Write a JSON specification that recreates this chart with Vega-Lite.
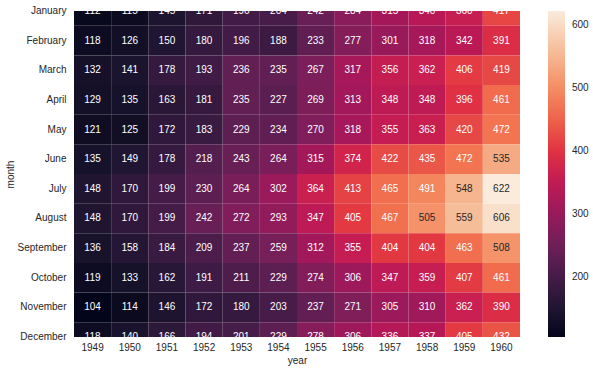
{
  "$schema": "https://vega.github.io/schema/vega-lite/v6.json",
  "width": 446,
  "height": 326,
  "autosize": {"type": "none"},
  "padding": {"left": 74, "top": 11, "right": 73, "bottom": 34},
  "config": {
    "view": {"stroke": null},
    "font": "Liberation Sans",
    "axis": {"domain": false, "ticks": false, "grid": false, "labelFont": "Liberation Sans", "titleFont": "Liberation Sans", "labelFontSize": 10, "titleFontSize": 10, "labelColor": "#262626", "titleColor": "#262626", "titleFontWeight": "normal"},
    "legend": {"labelFont": "Liberation Sans", "labelFontSize": 10, "labelColor": "#262626"}
  },
  "data": {"values": [
    {"year": "1949", "month": "January", "passengers": 112},
    {"year": "1949", "month": "February", "passengers": 118},
    {"year": "1949", "month": "March", "passengers": 132},
    {"year": "1949", "month": "April", "passengers": 129},
    {"year": "1949", "month": "May", "passengers": 121},
    {"year": "1949", "month": "June", "passengers": 135},
    {"year": "1949", "month": "July", "passengers": 148},
    {"year": "1949", "month": "August", "passengers": 148},
    {"year": "1949", "month": "September", "passengers": 136},
    {"year": "1949", "month": "October", "passengers": 119},
    {"year": "1949", "month": "November", "passengers": 104},
    {"year": "1949", "month": "December", "passengers": 118},
    {"year": "1950", "month": "January", "passengers": 115},
    {"year": "1950", "month": "February", "passengers": 126},
    {"year": "1950", "month": "March", "passengers": 141},
    {"year": "1950", "month": "April", "passengers": 135},
    {"year": "1950", "month": "May", "passengers": 125},
    {"year": "1950", "month": "June", "passengers": 149},
    {"year": "1950", "month": "July", "passengers": 170},
    {"year": "1950", "month": "August", "passengers": 170},
    {"year": "1950", "month": "September", "passengers": 158},
    {"year": "1950", "month": "October", "passengers": 133},
    {"year": "1950", "month": "November", "passengers": 114},
    {"year": "1950", "month": "December", "passengers": 140},
    {"year": "1951", "month": "January", "passengers": 145},
    {"year": "1951", "month": "February", "passengers": 150},
    {"year": "1951", "month": "March", "passengers": 178},
    {"year": "1951", "month": "April", "passengers": 163},
    {"year": "1951", "month": "May", "passengers": 172},
    {"year": "1951", "month": "June", "passengers": 178},
    {"year": "1951", "month": "July", "passengers": 199},
    {"year": "1951", "month": "August", "passengers": 199},
    {"year": "1951", "month": "September", "passengers": 184},
    {"year": "1951", "month": "October", "passengers": 162},
    {"year": "1951", "month": "November", "passengers": 146},
    {"year": "1951", "month": "December", "passengers": 166},
    {"year": "1952", "month": "January", "passengers": 171},
    {"year": "1952", "month": "February", "passengers": 180},
    {"year": "1952", "month": "March", "passengers": 193},
    {"year": "1952", "month": "April", "passengers": 181},
    {"year": "1952", "month": "May", "passengers": 183},
    {"year": "1952", "month": "June", "passengers": 218},
    {"year": "1952", "month": "July", "passengers": 230},
    {"year": "1952", "month": "August", "passengers": 242},
    {"year": "1952", "month": "September", "passengers": 209},
    {"year": "1952", "month": "October", "passengers": 191},
    {"year": "1952", "month": "November", "passengers": 172},
    {"year": "1952", "month": "December", "passengers": 194},
    {"year": "1953", "month": "January", "passengers": 196},
    {"year": "1953", "month": "February", "passengers": 196},
    {"year": "1953", "month": "March", "passengers": 236},
    {"year": "1953", "month": "April", "passengers": 235},
    {"year": "1953", "month": "May", "passengers": 229},
    {"year": "1953", "month": "June", "passengers": 243},
    {"year": "1953", "month": "July", "passengers": 264},
    {"year": "1953", "month": "August", "passengers": 272},
    {"year": "1953", "month": "September", "passengers": 237},
    {"year": "1953", "month": "October", "passengers": 211},
    {"year": "1953", "month": "November", "passengers": 180},
    {"year": "1953", "month": "December", "passengers": 201},
    {"year": "1954", "month": "January", "passengers": 204},
    {"year": "1954", "month": "February", "passengers": 188},
    {"year": "1954", "month": "March", "passengers": 235},
    {"year": "1954", "month": "April", "passengers": 227},
    {"year": "1954", "month": "May", "passengers": 234},
    {"year": "1954", "month": "June", "passengers": 264},
    {"year": "1954", "month": "July", "passengers": 302},
    {"year": "1954", "month": "August", "passengers": 293},
    {"year": "1954", "month": "September", "passengers": 259},
    {"year": "1954", "month": "October", "passengers": 229},
    {"year": "1954", "month": "November", "passengers": 203},
    {"year": "1954", "month": "December", "passengers": 229},
    {"year": "1955", "month": "January", "passengers": 242},
    {"year": "1955", "month": "February", "passengers": 233},
    {"year": "1955", "month": "March", "passengers": 267},
    {"year": "1955", "month": "April", "passengers": 269},
    {"year": "1955", "month": "May", "passengers": 270},
    {"year": "1955", "month": "June", "passengers": 315},
    {"year": "1955", "month": "July", "passengers": 364},
    {"year": "1955", "month": "August", "passengers": 347},
    {"year": "1955", "month": "September", "passengers": 312},
    {"year": "1955", "month": "October", "passengers": 274},
    {"year": "1955", "month": "November", "passengers": 237},
    {"year": "1955", "month": "December", "passengers": 278},
    {"year": "1956", "month": "January", "passengers": 284},
    {"year": "1956", "month": "February", "passengers": 277},
    {"year": "1956", "month": "March", "passengers": 317},
    {"year": "1956", "month": "April", "passengers": 313},
    {"year": "1956", "month": "May", "passengers": 318},
    {"year": "1956", "month": "June", "passengers": 374},
    {"year": "1956", "month": "July", "passengers": 413},
    {"year": "1956", "month": "August", "passengers": 405},
    {"year": "1956", "month": "September", "passengers": 355},
    {"year": "1956", "month": "October", "passengers": 306},
    {"year": "1956", "month": "November", "passengers": 271},
    {"year": "1956", "month": "December", "passengers": 306},
    {"year": "1957", "month": "January", "passengers": 315},
    {"year": "1957", "month": "February", "passengers": 301},
    {"year": "1957", "month": "March", "passengers": 356},
    {"year": "1957", "month": "April", "passengers": 348},
    {"year": "1957", "month": "May", "passengers": 355},
    {"year": "1957", "month": "June", "passengers": 422},
    {"year": "1957", "month": "July", "passengers": 465},
    {"year": "1957", "month": "August", "passengers": 467},
    {"year": "1957", "month": "September", "passengers": 404},
    {"year": "1957", "month": "October", "passengers": 347},
    {"year": "1957", "month": "November", "passengers": 305},
    {"year": "1957", "month": "December", "passengers": 336},
    {"year": "1958", "month": "January", "passengers": 340},
    {"year": "1958", "month": "February", "passengers": 318},
    {"year": "1958", "month": "March", "passengers": 362},
    {"year": "1958", "month": "April", "passengers": 348},
    {"year": "1958", "month": "May", "passengers": 363},
    {"year": "1958", "month": "June", "passengers": 435},
    {"year": "1958", "month": "July", "passengers": 491},
    {"year": "1958", "month": "August", "passengers": 505},
    {"year": "1958", "month": "September", "passengers": 404},
    {"year": "1958", "month": "October", "passengers": 359},
    {"year": "1958", "month": "November", "passengers": 310},
    {"year": "1958", "month": "December", "passengers": 337},
    {"year": "1959", "month": "January", "passengers": 360},
    {"year": "1959", "month": "February", "passengers": 342},
    {"year": "1959", "month": "March", "passengers": 406},
    {"year": "1959", "month": "April", "passengers": 396},
    {"year": "1959", "month": "May", "passengers": 420},
    {"year": "1959", "month": "June", "passengers": 472},
    {"year": "1959", "month": "July", "passengers": 548},
    {"year": "1959", "month": "August", "passengers": 559},
    {"year": "1959", "month": "September", "passengers": 463},
    {"year": "1959", "month": "October", "passengers": 407},
    {"year": "1959", "month": "November", "passengers": 362},
    {"year": "1959", "month": "December", "passengers": 405},
    {"year": "1960", "month": "January", "passengers": 417},
    {"year": "1960", "month": "February", "passengers": 391},
    {"year": "1960", "month": "March", "passengers": 419},
    {"year": "1960", "month": "April", "passengers": 461},
    {"year": "1960", "month": "May", "passengers": 472},
    {"year": "1960", "month": "June", "passengers": 535},
    {"year": "1960", "month": "July", "passengers": 622},
    {"year": "1960", "month": "August", "passengers": 606},
    {"year": "1960", "month": "September", "passengers": 508},
    {"year": "1960", "month": "October", "passengers": 461},
    {"year": "1960", "month": "November", "passengers": 390},
    {"year": "1960", "month": "December", "passengers": 432}
  ]},
  "encoding": {
    "x": {"field": "year", "type": "ordinal", "scale": {"paddingInner": 0, "paddingOuter": 0},
      "axis": {"labelAngle": 0, "labelPadding": 5, "title": "year", "titleBaseline": "top", "titleY": 18}},
    "y": {"field": "month", "type": "ordinal",
      "sort": ["January", "February", "March", "April", "May", "June", "July", "August", "September", "October", "November", "December"],
      "scale": {"paddingInner": 0, "paddingOuter": 0, "range": [-14.82, 340.82]},
      "axis": {"labelPadding": 8, "title": "month", "titleX": -64, "titleY": 163, "titleAlign": "center", "titleBaseline": "middle", "titleAngle": -90}}
  },
  "layer": [
    {
      "mark": {"type": "rect", "clip": true, "opacity": 1, "fillOpacity": 1},
      "encoding": {
        "color": {"field": "passengers", "type": "quantitative",
          "scale": {"domain": [104, 178, 252, 326, 400, 474, 548, 622],
            "range": ["#03051a", "#35193e", "#701f57", "#ad1759", "#e13342", "#f37651", "#f6b48f", "#faebdd"]},
          "legend": {"type": "gradient", "title": null, "direction": "vertical", "gradientLength": 326, "gradientThickness": 17, "offset": 28, "padding": 0, "values": [200, 300, 400, 500, 600], "labelOffset": 7, "gradientStrokeWidth": 0}}
      }
    },
    {
      "mark": {"type": "text", "clip": true, "fontSize": 10, "font": "Liberation Sans", "baseline": "middle"},
      "encoding": {
        "text": {"field": "passengers", "type": "quantitative"},
        "color": {"condition": {"test": "datum.passengers > 500", "value": "#262626"}, "value": "#ffffff"}
      }
    }
  ]
}
